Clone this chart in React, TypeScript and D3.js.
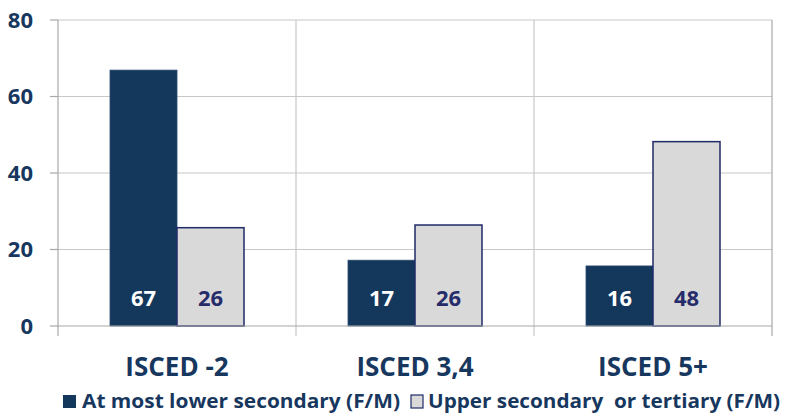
import React from "react";
import * as d3 from "d3";

const categories = ["ISCED -2", "ISCED 3,4", "ISCED 5+"];
const seriesNames = ["At most lower secondary (F/M)", "Upper secondary  or tertiary (F/M)"];
const lowerValues = [66.9, 17.2, 15.7];
const upperValues = [25.7, 26.4, 48.2];
const yTicks = [0, 20, 40, 60, 80];

const W = 785, H = 413;
const m = { left: 58, right: 13, top: 20, bottom: 87 };
const DARK = "#14375c";
const LIGHT = "#d9d9d9";
const LIGHT_STROKE = "#1f2a68";
const TEXT = "#17375e";
const FONT = "'Open Sans', Lato, sans-serif";

export default function App() {
  const x = d3.scaleBand().domain(categories).range([m.left, W - m.right]).paddingInner(0).paddingOuter(0);
  const y = d3.scaleLinear().domain([0, 80]).range([H - m.bottom, m.top]);
  const barW = 67;
  const series = [lowerValues, upperValues];
  const bounds = [m.left, ...categories.map((c) => (x(c) as number) + x.bandwidth())];
  return (
    <svg width={W} height={H} style={{ position: "absolute", left: 0, top: 0, fontFamily: FONT }}>
      <rect x={0} y={0} width={W} height={H} fill="#fff" />
      {yTicks.slice(1).map((t) => (
        <line key={t} x1={m.left} x2={W - m.right} y1={y(t)} y2={y(t)} stroke="#c8c8c8" strokeWidth={1.2} />
      ))}
      {bounds.slice(1).map((b, i) => (
        <line key={i} x1={b} x2={b} y1={m.top} y2={y(0) + 10} stroke={i === 2 ? "#a8a8a8" : "#c8c8c8"} strokeWidth={1.2} />
      ))}
      {yTicks.map((t) => (
        <line key={"t" + t} x1={m.left - 8} x2={m.left} y1={y(t)} y2={y(t)} stroke="#a8a8a8" strokeWidth={1.2} />
      ))}
      <line x1={m.left} x2={m.left} y1={m.top} y2={y(0) + 10} stroke="#a8a8a8" strokeWidth={1.2} />
      {categories.map((c, i) => {
        const cx = (x(c) as number) + x.bandwidth() / 2;
        return series.map((vals, s) => {
          const bx = cx - barW + s * barW;
          const v = vals[i];
          return (
            <g key={c + s}>
              <rect
                x={bx}
                y={y(v)}
                width={barW}
                height={y(0) - y(v)}
                fill={s === 0 ? DARK : LIGHT}
                stroke={s === 0 ? "#2a4a70" : LIGHT_STROKE}
                strokeWidth={s === 0 ? 0.8 : 1.5}
              />
              <text x={bx + barW / 2} y={y(0) - 20} textAnchor="middle" fontWeight={700} fontSize={22} fill={s === 0 ? "#fff" : "#262c6a"}>
                {Math.round(v)}
              </text>
            </g>
          );
        });
      })}
      <line x1={m.left} x2={W - m.right} y1={y(0)} y2={y(0)} stroke="#a8a8a8" strokeWidth={1.2} />
      {yTicks.map((t) => (
        <text key={"l" + t} x={33} y={y(t)} dy="0.36em" textAnchor="end" fontWeight={700} fontSize={22} fill={TEXT}>
          {t}
        </text>
      ))}
      {categories.map((c) => (
        <text key={"c" + c} x={(x(c) as number) + x.bandwidth() / 2} y={376} textAnchor="middle" fontWeight={700} fontSize={26} fill={TEXT}>
          {c}
        </text>
      ))}
      <rect x={63} y={395} width={13} height={13} fill={DARK} />
      <text x={82} y={408} fontWeight={700} fontSize={19.5} fill={TEXT} textLength={318} lengthAdjust="spacingAndGlyphs">{seriesNames[0]}</text>
      <rect x={411} y={395} width={12} height={13} fill={LIGHT} stroke={LIGHT_STROKE} strokeWidth={1.2} />
      <text x={428} y={408} fontWeight={700} fontSize={19.5} fill={TEXT} style={{ whiteSpace: "pre" }} textLength={352} lengthAdjust="spacingAndGlyphs">{seriesNames[1]}</text>
    </svg>
  );
}
